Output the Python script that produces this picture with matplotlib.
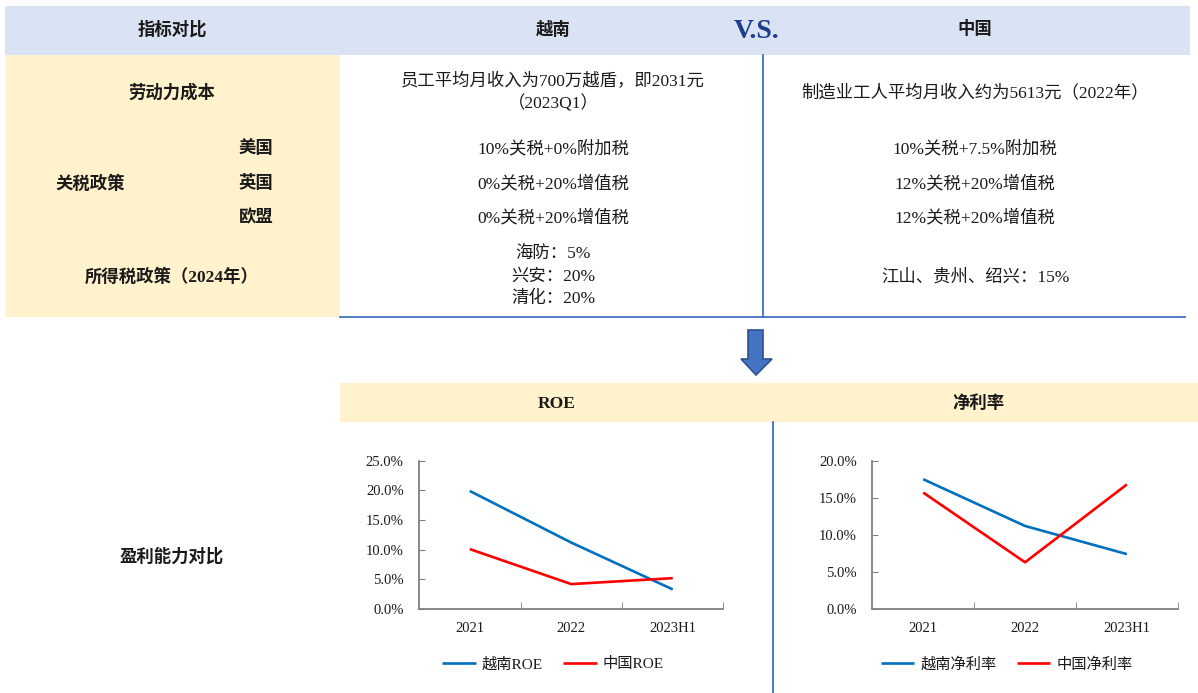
import matplotlib
matplotlib.use("Agg")
import matplotlib.pyplot as plt
from matplotlib.patches import Rectangle, Polygon
from matplotlib.lines import Line2D

plt.rcParams['font.family'] = ['Liberation Serif', 'Noto Sans CJK SC', 'DejaVu Sans']

# ---- data ----
periods = ["2021", "2022", "2023H1"]
roe_vn = [19.9, 11.2, 3.3]
roe_cn = [10.1, 4.2, 5.2]
margin_vn = [17.5, 11.2, 7.4]
margin_cn = [15.7, 6.3, 16.8]

header_labels = ["指标对比", "越南", "中国"]
row_labels = ["劳动力成本", "关税政策", "所得税政策（2024年）", "盈利能力对比"]
tariff_regions = ["美国", "英国", "欧盟"]
vn_labor = ["员工平均月收入为700万越盾，即2031元", "（2023Q1）"]
cn_labor = "制造业工人平均月收入约为5613元（2022年）"
vn_tariff = ["10%关税+0%附加税", "0%关税+20%增值税", "0%关税+20%增值税"]
cn_tariff = ["10%关税+7.5%附加税", "12%关税+20%增值税", "12%关税+20%增值税"]
vn_income = ["海防：5%", "兴安：20%", "清化：20%"]
cn_income = "江山、贵州、绍兴：15%"

W, H = 1198, 693
fig = plt.figure(figsize=(W / 100, H / 100), dpi=100)
fig.patch.set_facecolor("white")


def fx(x):
    return x / W


def fy(y):
    return 1 - y / H


def rect(x0, y0, x1, y1, color):
    fig.add_artist(Rectangle((fx(x0), fy(y1)), fx(x1) - fx(x0), fy(y0) - fy(y1),
                             transform=fig.transFigure, facecolor=color,
                             edgecolor="none", zorder=0))


def hline(x0, x1, y, color="#4472C4", lw=1.3):
    fig.add_artist(Line2D([fx(x0), fx(x1)], [fy(y), fy(y)], transform=fig.transFigure,
                          color=color, lw=lw))


def vline(x, y0, y1, color="#4472C4", lw=1.3):
    fig.add_artist(Line2D([fx(x), fx(x)], [fy(y0), fy(y1)], transform=fig.transFigure,
                          color=color, lw=lw))


def text(x, y, s, size=12.5, weight="normal", color="#1A1A1A", ha="center", **kw):
    fig.text(fx(x), fy(y), s, ha=ha, va="center", fontsize=size, fontweight=weight,
             color=color, **kw)


# ---- comparison table ----
rect(5, 6, 1190, 55, "#DAE3F3")
rect(5, 55, 340, 317, "#FFF2CC")
vline(763, 55, 317)
hline(340, 1185, 317)

text(172, 30, header_labels[0], weight="bold")
text(553, 30, header_labels[1], weight="bold")
text(975, 30, header_labels[2], weight="bold")
text(757, 32, "V.S.", size=20, weight="bold", color="#1F3C8F")

text(172, 93, row_labels[0], weight="bold")
text(90, 184, row_labels[1], weight="bold")
text(172, 277, row_labels[2], weight="bold")
for y, lab in zip([149, 184, 218], tariff_regions):
    text(256, y, lab, weight="bold")

text(553, 82, vn_labor[0])
text(553, 104, vn_labor[1])
text(975, 93, cn_labor)
for y, a, b in zip([149, 184, 218], vn_tariff, cn_tariff):
    text(553, y, a)
    text(975, y, b)
for y, s in zip([255, 277, 299], vn_income):
    text(553, y, s)
text(975, 277, cn_income)

# ---- down arrow ----
arrow = Polygon([(fx(748), fy(330)), (fx(763), fy(330)), (fx(763), fy(359)),
                 (fx(772), fy(359)), (fx(756), fy(375)), (fx(741), fy(359)),
                 (fx(748), fy(359))], closed=True, transform=fig.transFigure,
                facecolor="#4472C4", edgecolor="#2F528F", lw=1.2)
fig.add_artist(arrow)

# ---- profitability band ----
rect(340, 383, 1198, 422, "#FFF2CC")
text(557, 404, "ROE", weight="bold")
text(978, 404, "净利率", weight="bold")
vline(773, 422, 693)
text(172, 557, row_labels[3], weight="bold")

AX_COL = "#808080"


def line_panel(left, width, vn, cn, ymax, names, legend_x):
    ax = fig.add_axes([fx(left), fy(609), width / W, (609 - 460.7) / H])
    x = list(range(len(periods)))
    ax.plot(x, vn, color="#0070C0", lw=1.9, label=names[0], solid_capstyle="butt")
    ax.plot(x, cn, color="#FF0000", lw=1.9, label=names[1], solid_capstyle="butt")
    ax.set_xlim(-0.5, len(periods) - 0.5)
    ax.set_ylim(0, ymax)
    ax.set_yticks(range(0, ymax + 1, 5))
    ax.set_yticklabels([f"{v:.1f}%" for v in range(0, ymax + 1, 5)])
    ax.set_xticks(x)
    ax.set_xticklabels(periods)
    ax.set_xticks([i + 0.5 for i in x], minor=True)
    ax.tick_params(axis="x", which="major", length=0, pad=9, labelsize=10.5,
                   labelcolor="#1A1A1A")
    ax.tick_params(axis="x", which="minor", direction="in", length=5, color=AX_COL)
    ax.tick_params(axis="y", direction="in", length=4, color=AX_COL, pad=11,
                   labelsize=10.5, labelcolor="#1A1A1A")
    for s in ("top", "right"):
        ax.spines[s].set_visible(False)
    for s in ("left", "bottom"):
        ax.spines[s].set_color(AX_COL)
        ax.spines[s].set_linewidth(1.3)
    ax.patch.set_alpha(0)
    leg = ax.legend(loc="upper center", bbox_to_anchor=(legend_x, -0.23), ncol=2,
                    frameon=False, fontsize=11, handlelength=2.2,
                    columnspacing=1.3, handletextpad=0.4)
    for t in leg.get_texts():
        t.set_color("#1A1A1A")
    return ax


line_panel(419, 304.5, roe_vn, roe_cn, 25, ["越南ROE", "中国ROE"], 0.44)
line_panel(872.3, 305.5, margin_vn, margin_cn, 20, ["越南净利率", "中国净利率"], 0.44)

fig.savefig("out.png", dpi=100, facecolor="white")
